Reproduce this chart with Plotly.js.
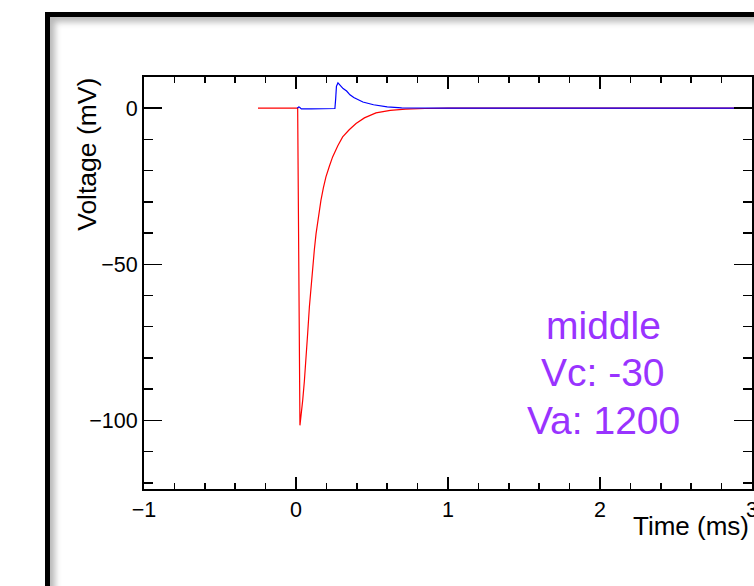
<!DOCTYPE html>
<html>
<head>
<meta charset="utf-8">
<script src="https://cdn.plot.ly/plotly-3.0.1.min.js"></script>
<style>
  html, body { margin: 0; padding: 0; background: #ffffff; width: 754px; height: 586px; overflow: hidden; }
  #frame { position: absolute; left: 45px; top: 12px; width: 820px; height: 700px;
           border: 5px solid #000; box-sizing: border-box;
           box-shadow: inset 5px 5px 6px rgba(0,0,0,0.28); background: #fff; }
  #chart { position: absolute; left: 0; top: 0; width: 754px; height: 586px; }
</style>
</head>
<body>
<div id="frame"></div>
<div id="chart"></div>
<script>
// Red trace (time in ms, voltage in mV)
const redX = [-0.25, 0.011, 0.026, 0.035, 0.044, 0.055, 0.066, 0.077, 0.088, 0.099, 0.110, 0.121, 0.132, 0.148, 0.164, 0.18, 0.197, 0.22, 0.241, 0.275, 0.307, 0.35, 0.395, 0.45, 0.526, 0.62, 0.72, 0.85, 1.0, 1.5, 2.0, 2.5, 3.0];
const redY = [0, 0, -101.6, -98, -93.6, -87.5, -80.8, -72, -63.7, -57, -50.9, -45.2, -40.2, -34.5, -29.5, -25.5, -22.0, -18.5, -15.6, -12.0, -9.2, -6.9, -4.9, -3.1, -1.5, -0.7, -0.3, -0.1, 0, 0, 0, 0, 0];

// Blue trace
const blueX = [0.008, 0.018, 0.024, 0.035, 0.1, 0.2, 0.256, 0.261, 0.266, 0.276, 0.29, 0.31, 0.333, 0.355, 0.38, 0.41, 0.44, 0.51, 0.6, 0.695, 0.8, 1.0, 2.0, 3.0];
const blueY = [0, 0.4, 0.3, -0.2, -0.2, -0.1, -0.1, 3.0, 7.0, 8.1, 7.2, 6.3, 5.5, 4.3, 3.4, 2.6, 2.0, 1.1, 0.4, 0.1, 0, 0, 0, 0];

// Labels
const labelLines = ["middle", "Vc: -30", "Va: 1200"];
const labelY = [-69.6, -84.6, -100];
const labelX = 2.02;
const xTitle = "Time (ms)";
const yTitle = "Voltage (mV)";

const traces = [
  { x: redX, y: redY, type: 'scatter', mode: 'lines', line: { color: '#ff0000', width: 1.2 }, hoverinfo: 'skip', showlegend: false },
  { x: blueX, y: blueY, type: 'scatter', mode: 'lines', line: { color: '#0000ff', width: 1.2 }, hoverinfo: 'skip', showlegend: false }
];

const fontFam = 'Liberation Sans, Arial, sans-serif';
const annotations = labelLines.map((t, i) => ({
  x: labelX, y: labelY[i], xref: 'x', yref: 'y', text: t, showarrow: false,
  xanchor: 'center', yanchor: 'middle',
  font: { family: fontFam, size: 39, color: '#9933ff' }
}));
annotations.push({
  x: 0.998, y: -0.09, xref: 'paper', yref: 'paper', text: xTitle, showarrow: false,
  xanchor: 'right', yanchor: 'middle', font: { family: fontFam, size: 26, color: '#000' }
});
annotations.push({
  x: -0.0935, y: 1.002, xref: 'paper', yref: 'paper', text: yTitle, showarrow: false, textangle: -90,
  xanchor: 'center', yanchor: 'top', font: { family: fontFam, size: 26.5, color: '#000' }
});

const layout = {
  width: 754, height: 586,
  margin: { l: 144, r: 2, t: 77, b: 97, pad: 0 },
  paper_bgcolor: 'rgba(0,0,0,0)', plot_bgcolor: 'rgba(0,0,0,0)',
  showlegend: false,
  xaxis: {
    range: [-1, 3], dtick: 1, tick0: 0, ticks: 'inside', ticklen: 12, tickwidth: 1.5, tickcolor: '#000',
    showline: true, linecolor: '#000', linewidth: 2, mirror: 'ticks', showgrid: false, zeroline: false,
    tickfont: { family: fontFam, size: 21.5, color: '#000' }, ticklabeloverflow: 'allow', ticklabelstandoff: 0,
    minor: { dtick: 0.2, tick0: 0, ticks: 'inside', ticklen: 6, tickwidth: 1.5, tickcolor: '#000', showgrid: false }
  },
  yaxis: {
    range: [-122, 10], dtick: 50, tick0: 0, ticks: 'inside', ticklen: 18, tickwidth: 1.5, tickcolor: '#000',
    showline: true, linecolor: '#000', linewidth: 2, mirror: 'ticks', showgrid: false, zeroline: false,
    tickfont: { family: fontFam, size: 21.5, color: '#000' }, ticklabelstandoff: 0,
    minor: { dtick: 10, tick0: 0, ticks: 'inside', ticklen: 9, tickwidth: 1.5, tickcolor: '#000', showgrid: false }
  },
  annotations: annotations
};

Plotly.newPlot('chart', traces, layout, { staticPlot: true, displayModeBar: false });
</script>
</body>
</html>
